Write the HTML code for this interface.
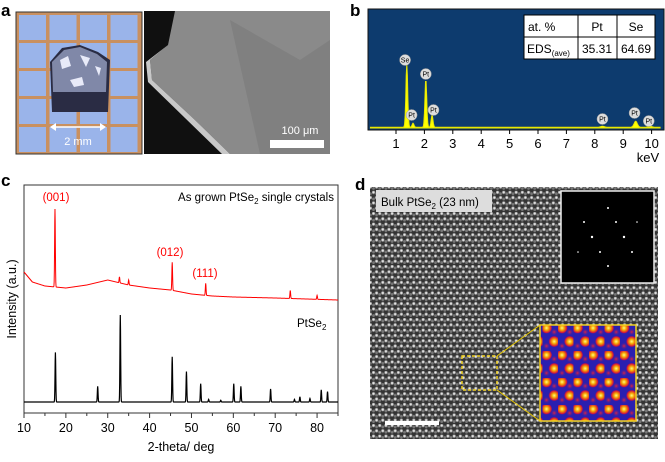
<!DOCTYPE html>
<html><head><meta charset="utf-8"><style>
body{margin:0;background:#fff;width:665px;height:462px;overflow:hidden;font-family:"Liberation Sans",sans-serif}
svg{position:absolute;left:0;top:0}
</style></head><body>
<svg id="fig" width="665" height="462" viewBox="0 0 665 462" font-family="Liberation Sans, sans-serif">
<defs>
<radialGradient id="dot"><stop offset="0" stop-color="#fff"/><stop offset="0.5" stop-color="#bbb"/><stop offset="1" stop-color="#3a3a3a" stop-opacity="0"/></radialGradient>
<pattern id="lat" width="6.2" height="10.6" patternUnits="userSpaceOnUse">
<rect width="6.2" height="10.6" fill="#333"/>
<circle cx="1.5" cy="1.5" r="2.4" fill="url(#dot)"/><circle cx="4.6" cy="6.8" r="2.4" fill="url(#dot)"/>
<circle cx="4.6" cy="2.9" r="1.4" fill="#777"/><circle cx="1.5" cy="8.2" r="1.4" fill="#777"/>
</pattern>
<radialGradient id="hot"><stop offset="0" stop-color="#ffff80"/><stop offset="0.4" stop-color="#f5a000"/><stop offset="0.8" stop-color="#d01040"/><stop offset="1" stop-color="#2020b0" stop-opacity="0"/></radialGradient>
<radialGradient id="warm"><stop offset="0" stop-color="#e02040"/><stop offset="1" stop-color="#2020b0" stop-opacity="0"/></radialGradient>
<pattern id="lat2" width="15.5" height="27" patternUnits="userSpaceOnUse">
<rect width="15.5" height="27" fill="#2a1fb0"/>
<circle cx="4" cy="4" r="6" fill="url(#hot)"/><circle cx="11.7" cy="17.5" r="6" fill="url(#hot)"/>
<circle cx="11.7" cy="8" r="4" fill="url(#warm)"/><circle cx="4" cy="22" r="4" fill="url(#warm)"/>
</pattern>
</defs>
<text x="1" y="16" font-size="17" font-weight="bold">a</text>
<text x="350" y="16" font-size="17" font-weight="bold">b</text>
<text x="1" y="186" font-size="17" font-weight="bold">c</text>
<text x="355" y="190" font-size="17" font-weight="bold">d</text>

<g>
<rect x="16" y="12" width="126" height="142" fill="#c99060" stroke="#333"/>
<g id="grid"></g>
<path d="M50 62 L62 48 L80 45 L98 52 L110 60 L108 112 L52 112 Z" fill="#2a2c44"/>
<path d="M52 62 L64 50 L80 47 L97 54 L107 62 L106 92 L53 92 Z" fill="#8088a8"/>
<path d="M60 60 l8 -4 l3 10 l-9 3 Z M80 55 l10 3 l-4 9 Z M70 80 l12 -3 l2 8 l-10 2Z M95 66 l6 2 l-2 8Z" fill="#e8eaf8"/>
<line x1="52" y1="127" x2="104" y2="127" stroke="#fff" stroke-width="1.5"/>
<path d="M50 127 l6 -4 v8Z M106 127 l-6 -4 v8Z" fill="#fff"/>
<text x="78" y="145" font-size="11" fill="#fff" text-anchor="middle">2 mm</text>
</g>
<g>
<rect x="144" y="11" width="186" height="143" fill="#101010"/>
<path d="M175 11 L330 11 L330 154 L230 154 L195 120 L152 80 L150 60 L168 45 Z" fill="#8a8a8a"/>
<path d="M168 45 L150 60 L152 80 L195 120 L230 154 L222 154 L148 82 L146 62Z" fill="#c8c8c8"/>
<path d="M230 20 L300 60 L330 40 L330 154 L260 154 Z" fill="#7a7a7a" opacity="0.6"/>
<text x="300" y="134" font-size="11" fill="#fff" text-anchor="middle">100 μm</text>
<rect x="270" y="140" width="54" height="8" fill="#fff"/>
</g>

<g>
<rect x="368" y="9" width="296" height="121" fill="#0d3b6e" stroke="#111"/>
<g id="edsSpec"></g><g id="edsLabels"></g><g id="edsTicks"></g>
<text x="648" y="162" font-size="13" text-anchor="middle">keV</text>
<g>
<rect x="524" y="15" width="131" height="44" fill="#fff" stroke="#000"/>
<line x1="524" y1="37" x2="655" y2="37" stroke="#000"/>
<line x1="578" y1="15" x2="578" y2="59" stroke="#000"/><line x1="617" y1="15" x2="617" y2="59" stroke="#000"/>
<text x="528" y="31" font-size="12">at. %</text>
<text x="597" y="31" font-size="12" text-anchor="middle">Pt</text>
<text x="636" y="31" font-size="12" text-anchor="middle">Se</text>
<text x="527" y="53" font-size="12">EDS<tspan font-size="8" dy="3">(ave)</tspan></text>
<text x="597" y="53" font-size="12" text-anchor="middle">35.31</text>
<text x="636" y="53" font-size="12" text-anchor="middle">64.69</text>
</g>
</g>

<g>
<rect x="24" y="185" width="314" height="228" fill="none" stroke="#333"/>
<path id="redLine" fill="none" stroke="#f00" stroke-width="1"/>
<path id="blackLine" fill="none" stroke="#000" stroke-width="1.2"/>
<g id="xrdTicks"></g>
<text x="16" y="299" font-size="12.5" text-anchor="middle" transform="rotate(-90 16 299)">Intensity (a.u.)</text>
<text x="181" y="451" font-size="12.5" text-anchor="middle">2-theta/ deg</text>
<text x="334" y="201" font-size="11.5" text-anchor="end">As grown PtSe<tspan font-size="8" dy="3">2</tspan><tspan dy="-3">  single crystals</tspan></text>
<text x="297" y="327" font-size="11.5">PtSe<tspan font-size="8" dy="3">2</tspan></text>
<text x="56" y="201" font-size="11.5" fill="#f00" text-anchor="middle">(001)</text>
<text x="170" y="256" font-size="11.5" fill="#f00" text-anchor="middle">(012)</text>
<text x="205" y="277" font-size="11.5" fill="#f00" text-anchor="middle">(111)</text>
</g>

<g>
<rect x="370" y="187" width="288" height="252" fill="url(#lat)"/>
<rect x="376" y="190" width="116" height="22" fill="#ddd"/>
<text x="381" y="206" font-size="11.5">Bulk PtSe<tspan font-size="8" dy="3">2</tspan><tspan dy="-3"> (23 nm)</tspan></text>
<g>
<rect x="561" y="191" width="93" height="92" fill="#000" stroke="#eee" stroke-width="1.5"/>
<g fill="#fff"><circle cx="608" cy="208" r="1"/><circle cx="584" cy="222" r="1"/><circle cx="616" cy="222" r="1"/><circle cx="592" cy="237" r="1.2"/><circle cx="624" cy="237" r="1.2"/><circle cx="600" cy="252" r="1"/><circle cx="632" cy="252" r="1"/><circle cx="608" cy="266" r="1"/><circle cx="637" cy="222" r="0.8"/><circle cx="578" cy="252" r="0.8"/></g>
</g>
<rect x="462" y="356" width="35" height="34" fill="none" stroke="#f0d020" stroke-width="1.5" stroke-dasharray="3 2"/>
<line x1="497" y1="356" x2="540" y2="325" stroke="#e8c800"/><line x1="497" y1="390" x2="540" y2="421" stroke="#e8c800"/>
<rect x="540" y="325" width="96" height="96" fill="url(#lat2)" stroke="#f0d020" stroke-width="1.5"/>
<rect x="385" y="421" width="54" height="4" fill="#fff"/>
</g>
</svg>
<script>
// ---- Panel b data ----
const edsPeakE=[1.38,1.6,2.05,2.27,8.27,9.44,9.95];
const edsPeakH=[63,4,48,12,1,6,1];
const edsLabelText=["Se","Pt","Pt","Pt","Pt","Pt","Pt"];
const edsLabelE=[1.32,1.55,2.05,2.32,8.27,9.4,9.9];
const edsLabelLift=[68,13,54,18,9,15,7];
const edsTicksK=[1,2,3,4,5,6,7,8,9,10];
// ---- Panel c data ----
const xrdTickLabels=[10,20,30,40,50,60,70,80];
const refPeakPos=[17.5,27.6,33,45.4,48.8,52.2,54.1,57,60.1,61.8,68.9,74.6,75.9,78.3,81,82.5];
const refPeakInt=[57,18,100,52,35,21,3,2,21,18,15,3,6,4,14,12];
const bgPos=[10,12,15,20,25,30,35,40,45,50,55,60,70,85];
const bgInt=[28,18,14,12,15,20,15,12,10,6,4,3,2,0];
const grownPeakPos=[17.4,32.8,35,45.4,53.4,73.6,80];
const grownPeakInt=[78,6,5,28,12,8,4];

const NS="http://www.w3.org/2000/svg";
function mk(t,a,p){const e=document.createElementNS(NS,t);for(const k in a)e.setAttribute(k,a[k]);p.appendChild(e);return e;}
(function(){const g=document.getElementById('grid');
for(let c=0;c<4;c++)for(let r=0;r<5;r++){
 const s=mk('rect',{x:19+c*30.5,y:15+r*28,width:27,height:25,fill:'#9ab4ea'},g);
 
 }})();
const ex=e=>367.6+e*28.4, ey=h=>128-h;
(function(){
let d='M'+ex(0.1)+' '+ey(0);
for(let e=0.1;e<=10.3;e+=0.02){let h=0.8;
 for(let i=0;i<edsPeakE.length;i++){const w=edsPeakE[i]<3?0.045:0.08;h+=edsPeakH[i]*Math.exp(-Math.pow((e-edsPeakE[i])/w,2));}
 d+=' L'+ex(e).toFixed(1)+' '+ey(h).toFixed(1);}
d+=' L'+ex(10.3)+' '+ey(0)+'Z';
const p=mk('path',{d:d,fill:'#ffff00',stroke:'#e8e800'},document.getElementById('edsSpec'));


const L=document.getElementById('edsLabels');
for(let i=0;i<edsLabelText.length;i++){
 const x=ex(edsLabelE[i]),y=ey(edsLabelLift[i]);
 const c=mk('circle',{cx:x,cy:y,r:5.5,fill:'#ddd',stroke:'#999','stroke-width':0.5},L);
 
 
 const t=mk('text',{x:x,y:y+2.5,'font-size':7,'text-anchor':'middle'},L);t.textContent=edsLabelText[i];}
const T=document.getElementById('edsTicks');
edsTicksK.forEach(k=>{mk('line',{x1:ex(k),x2:ex(k),y1:130,y2:134,stroke:'#000'},T);
 const t=mk('text',{x:ex(k),y:148,'font-size':13,'text-anchor':'middle'},T);t.textContent=k;
 
 });
})();
const cx=v=>24+(v-10)*314/75;
const yRef=v=>402-v*0.87, yGrown=v=>300-v;
function interp(xs,ys,x){for(let i=0;i<xs.length-1;i++){if(x<=xs[i+1]){const t=(x-xs[i])/(xs[i+1]-xs[i]);return ys[i]+t*(ys[i+1]-ys[i]);}}return ys[ys.length-1];}
(function(){
let d='',r='';
for(let x=10;x<=85;x+=0.05){
 let v=0;refPeakPos.forEach((p,i)=>{v+=refPeakInt[i]*Math.exp(-Math.pow((x-p)/0.12,2));});
 d+=(d?' L':'M')+cx(x).toFixed(2)+' '+yRef(v).toFixed(2);
 let g=interp(bgPos,bgInt,x);grownPeakPos.forEach((p,i)=>{g+=grownPeakInt[i]*Math.exp(-Math.pow((x-p)/0.12,2));});
 r+=(r?' L':'M')+cx(x).toFixed(2)+' '+yGrown(g).toFixed(2);}
document.getElementById('blackLine').setAttribute('d',d);
document.getElementById('redLine').setAttribute('d',r);
const T=document.getElementById('xrdTicks');
for(let v=10;v<=85;v+=5){mk('line',{x1:cx(v),x2:cx(v),y1:413,y2:v%10===0?418:416,stroke:'#333'},T);}
xrdTickLabels.forEach(v=>{const t=mk('text',{x:cx(v),y:432,'font-size':12.5,'text-anchor':'middle'},T);t.textContent=v;
 
 });
})();
</script>
</body></html>
